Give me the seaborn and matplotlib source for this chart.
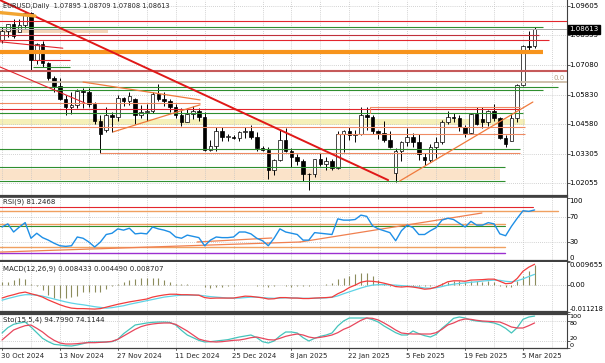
import numpy as np
import pandas as pd
import matplotlib
matplotlib.use("Agg")
import matplotlib.pyplot as plt
import matplotlib.transforms as mtransforms
import seaborn as sns

sns.set_style("white")
plt.rcParams["font.family"] = ["DejaVu Sans"]
plt.rcParams["font.size"] = 5.0

# ---------------------------------------------------------------- data
dates = pd.bdate_range("2024-10-30", "2025-03-07")

opens = [1.0817, 1.0855, 1.0884, 1.0848, 1.0880, 1.0930, 1.0730, 1.0800, 1.0719, 1.0655,
         1.0622, 1.0565, 1.0530, 1.0540, 1.0597, 1.0595, 1.0545, 1.0470, 1.0435, 1.0495,
         1.0487, 1.0568, 1.0555, 1.0565, 1.0497, 1.0510, 1.0513, 1.0585, 1.0567, 1.0555,
         1.0530, 1.0495, 1.0467, 1.0500, 1.0512, 1.0490, 1.0350, 1.0365, 1.0430, 1.0405,
         1.0405, 1.0400, 1.0423, 1.0430, 1.0405, 1.0355, 1.0350, 1.0265, 1.0307, 1.0390,
         1.0345, 1.0320, 1.0300, 1.0245, 1.0244, 1.0308, 1.0290, 1.0300, 1.0272, 1.0415,
         1.0430, 1.0410, 1.0415, 1.0495, 1.0490, 1.0430, 1.0420, 1.0390, 1.0250, 1.0345,
         1.0380, 1.0405, 1.0380, 1.0320, 1.0305, 1.0360, 1.0380, 1.0465, 1.0490, 1.0485,
         1.0445, 1.0420, 1.0500, 1.0480, 1.0465, 1.0515, 1.0485, 1.0400, 1.0385, 1.0485,
         1.0625, 1.0790, 1.07895]
highs = [1.0870, 1.0885, 1.0905, 1.0905, 1.0937, 1.0937, 1.0805, 1.0810, 1.0721, 1.0663,
         1.0653, 1.0580, 1.0595, 1.0608, 1.0610, 1.0610, 1.0552, 1.0498, 1.0530, 1.0510,
         1.0580, 1.0575, 1.0595, 1.0570, 1.0540, 1.0545, 1.0595, 1.0630, 1.0595, 1.0565,
         1.0545, 1.0525, 1.0525, 1.0535, 1.0525, 1.0510, 1.0390, 1.0445, 1.0445, 1.0415,
         1.0410, 1.0430, 1.0445, 1.0455, 1.0425, 1.0365, 1.0360, 1.0310, 1.0435, 1.0440,
         1.0355, 1.0330, 1.0310, 1.0250, 1.0310, 1.0335, 1.0320, 1.0310, 1.0430, 1.0435,
         1.0445, 1.0435, 1.0530, 1.0530, 1.0495, 1.0435, 1.0470, 1.0430, 1.0355, 1.0385,
         1.0440, 1.0420, 1.0415, 1.0335, 1.0375, 1.0405, 1.0475, 1.0515, 1.0505, 1.0495,
         1.0455, 1.0505, 1.0530, 1.0530, 1.0520, 1.0545, 1.0490, 1.0410, 1.0500, 1.0630,
         1.0795, 1.0855, 1.08709]
lows = [1.0805, 1.0828, 1.0824, 1.0848, 1.0868, 1.0683, 1.0715, 1.0700, 1.0645, 1.0595,
        1.0560, 1.0495, 1.0500, 1.0525, 1.0525, 1.0530, 1.0460, 1.0335, 1.0425, 1.0425,
        1.0470, 1.0535, 1.0540, 1.0460, 1.0485, 1.0470, 1.0505, 1.0555, 1.0535, 1.0510,
        1.0485, 1.0450, 1.0465, 1.0480, 1.0470, 1.0345, 1.0345, 1.0345, 1.0385, 1.0385,
        1.0395, 1.0385, 1.0400, 1.0395, 1.0345, 1.0345, 1.0226, 1.0240, 1.0300, 1.0340,
        1.0275, 1.0285, 1.0215, 1.0177, 1.0235, 1.0280, 1.0265, 1.0265, 1.0268, 1.0340,
        1.0390, 1.0380, 1.0410, 1.0435, 1.0415, 1.0395, 1.0380, 1.0355, 1.0212, 1.0300,
        1.0365, 1.0360, 1.0305, 1.0285, 1.0295, 1.0315, 1.0375, 1.0460, 1.0465, 1.0430,
        1.0405, 1.0415, 1.0455, 1.0440, 1.0450, 1.0470, 1.0395, 1.0360, 1.0385, 1.0465,
        1.0620, 1.0760, 1.07808]
closes = [1.0855, 1.0884, 1.0833, 1.0880, 1.0930, 1.0730, 1.0800, 1.0719, 1.0655, 1.0622,
          1.0565, 1.0530, 1.0540, 1.0597, 1.0595, 1.0545, 1.0470, 1.0418, 1.0495, 1.0487,
          1.0568, 1.0555, 1.0577, 1.0497, 1.0510, 1.0513, 1.0585, 1.0567, 1.0555, 1.0530,
          1.0495, 1.0467, 1.0500, 1.0512, 1.0490, 1.0350, 1.0365, 1.0430, 1.0405, 1.0405,
          1.0400, 1.0423, 1.0430, 1.0405, 1.0355, 1.0350, 1.0265, 1.0307, 1.0390, 1.0345,
          1.0320, 1.0300, 1.0245, 1.0244, 1.0308, 1.0290, 1.0300, 1.0272, 1.0415, 1.0430,
          1.0410, 1.0415, 1.0495, 1.0490, 1.0430, 1.0420, 1.0390, 1.0362, 1.0345, 1.0380,
          1.0405, 1.0380, 1.0330, 1.0305, 1.0360, 1.0380, 1.0465, 1.0490, 1.0485, 1.0445,
          1.0420, 1.0500, 1.0460, 1.0465, 1.0515, 1.0485, 1.0400, 1.0375, 1.0485, 1.0625,
          1.0790, 1.0785, 1.08613]

rsi = [54, 59, 46, 54, 61, 36, 44, 37, 33, 28,
       24, 23, 24, 38, 36, 30, 22, 30, 42, 44,
       51, 49, 52, 43, 44, 43, 54, 51, 49, 46,
       38, 36, 41, 39, 37, 24, 33, 38, 37, 37,
       38, 46, 46, 43, 36, 32, 24, 36, 51, 46,
       44, 42, 33, 33, 45, 44, 43, 42, 67, 65,
       65, 66, 73, 71, 56, 51, 48, 45, 32, 48,
       57, 53, 42, 42, 48, 53, 65, 68, 66, 60,
       54, 63, 57, 57, 61, 59, 43, 40, 55, 68,
       80, 79, 81.2468]

macd_main = [-0.0054, -0.0046, -0.0040, -0.0033, -0.0029, -0.0036, -0.0042, -0.0050, -0.0062, -0.0072,
             -0.0082, -0.0090, -0.0096, -0.0098, -0.0098, -0.0099, -0.0100, -0.0098, -0.0092, -0.0086,
             -0.0080, -0.0075, -0.0070, -0.0066, -0.0062, -0.0058, -0.0050, -0.0045, -0.0041, -0.0038,
             -0.0038, -0.0040, -0.0040, -0.0041, -0.0042, -0.0052, -0.0055, -0.0054, -0.0054, -0.0054,
             -0.0054, -0.0050, -0.0046, -0.0047, -0.0050, -0.0053, -0.0058, -0.0057, -0.0052, -0.0052,
             -0.0054, -0.0054, -0.0056, -0.0056, -0.0054, -0.0053, -0.0052, -0.0050, -0.0036, -0.0025,
             -0.0010, 0.0000, 0.0012, 0.0017, 0.0016, 0.0013, 0.0008, 0.0002, -0.0006, -0.0008,
             -0.0006, -0.0008, -0.0012, -0.0017, -0.0015, -0.0008, 0.0002, 0.0014, 0.0018, 0.0018,
             0.0016, 0.0021, 0.0022, 0.0023, 0.0025, 0.0025, 0.0016, 0.0006, 0.0008, 0.0028,
             0.0058, 0.0075, 0.008707]
macd_signal = [-0.0063, -0.0056, -0.0050, -0.0044, -0.0040, -0.0040, -0.0042, -0.0046, -0.0052, -0.0058,
               -0.0064, -0.0070, -0.0075, -0.0079, -0.0082, -0.0086, -0.0090, -0.0093, -0.0096, -0.0094,
               -0.0090, -0.0086, -0.0080, -0.0075, -0.0070, -0.0065, -0.0060, -0.0055, -0.0050, -0.0047,
               -0.0044, -0.0042, -0.0042, -0.0042, -0.0042, -0.0045, -0.0048, -0.0050, -0.0052, -0.0054,
               -0.0054, -0.0054, -0.0052, -0.0050, -0.0050, -0.0052, -0.0054, -0.0055, -0.0054, -0.0053,
               -0.0053, -0.0054, -0.0055, -0.0055, -0.0055, -0.0054, -0.0053, -0.0051, -0.0045, -0.0036,
               -0.0028, -0.0020, -0.0012, -0.0005, 0.0000, 0.0002, 0.0002, 0.0001, 0.0000, -0.0002,
               -0.0004, -0.0006, -0.0008, -0.0012, -0.0013, -0.0011, -0.0006, 0.0000, 0.0004, 0.0007,
               0.0009, 0.0012, 0.0014, 0.0017, 0.0019, 0.0021, 0.0020, 0.0016, 0.0014, 0.0018,
               0.0026, 0.0036, 0.004490]
macd_hist = [0.0013, 0.0015, 0.0021, 0.0029, 0.0025, 0.0003, -0.0004, -0.0020, -0.0040, -0.0054,
             -0.0054, -0.0054, -0.0050, -0.0046, -0.0030, -0.0030, -0.0028, -0.0030, -0.0018, -0.0004,
             0.0006, 0.0012, 0.0020, 0.0024, 0.0028, 0.0030, 0.0030, 0.0028, 0.0020, 0.0012,
             0.0006, 0.0004, 0.0003, 0.0002, 0.0000, -0.0006, -0.0010, -0.0008, -0.0006, -0.0004,
             -0.0003, 0.0000, 0.0002, 0.0001, -0.0002, -0.0003, -0.0006, -0.0004, 0.0000, -0.0005,
             -0.0006, -0.0004, -0.0004, -0.0003, 0.0000, 0.0002, 0.0003, 0.0010, 0.0024, 0.0030,
             0.0040, 0.0046, 0.0050, 0.0050, 0.0040, 0.0020, 0.0006, -0.0002, -0.0004, -0.0004,
             -0.0002, -0.0002, -0.0004, -0.0003, -0.0002, 0.0000, 0.0008, 0.0014, 0.0016, 0.0016,
             0.0014, 0.0016, 0.0016, 0.0015, 0.0016, 0.0012, -0.0004, -0.0008, -0.0006, 0.0016,
             0.0040, 0.0060, 0.008433]

sto_k = [44, 60, 70, 74, 77, 62, 45, 28, 18, 10,
         8, 6, 5, 8, 12, 17, 17, 17, 17, 18,
         25, 42, 55, 68, 71, 74, 76, 77, 77, 76,
         68, 52, 38, 30, 22, 17, 18, 20, 22, 24,
         28, 32, 35, 38, 30, 18, 14, 20, 35, 47,
         47, 44, 30, 20, 28, 34, 38, 44, 65, 80,
         89, 89, 89, 89, 84, 77, 65, 55, 45, 38,
         38, 50, 42, 36, 32, 40, 58, 72, 88, 92,
         89, 83, 80, 78, 77, 74, 68, 58, 44, 60,
         85, 92, 94.7990]
sto_d = [23, 38, 53, 60, 66, 68, 58, 47, 33, 22,
         14, 11, 11, 12, 14, 15, 15, 16, 17, 19,
         25, 35, 45, 55, 63, 68, 71, 73, 74, 74,
         70, 60, 50, 38, 26, 21, 18, 17, 18, 20,
         22, 23, 26, 30, 32, 28, 24, 23, 28, 34,
         38, 41, 38, 32, 29, 31, 34, 38, 45, 55,
         62, 72, 82, 89, 88, 83, 74, 64, 53, 44,
         42, 41, 41, 41, 41, 45, 55, 68, 74, 82,
         86, 85, 82, 80, 79, 78, 77, 70, 62, 59,
         59, 66, 74.1144]

price_ticks = [1.09605, 1.08355, 1.07080, 1.05830, 1.04580, 1.03305, 1.02055]
bid_price = 1.08613

# chart objects, anchored in (bar number, price)
level_price = [1.08988, 1.08699, 1.08371, 1.08159, 1.07636, 1.07308, 1.07010, 1.06840,
               1.06372, 1.06147, 1.06032, 1.05479, 1.05309, 1.05224, 1.05054, 1.04458,
               1.04160, 1.03522, 1.03350, 1.02754, 1.02161]
level_start = [-1, -1, -1, -1, -1, 5.35, 5.35, -1,
               -1, -1, -1, -1, 63.6, -1, -1, -1,
               57.9, -1, 16.9, -1, -1]
level_end = [98, 93.4, 92.7, 94.5, 93.4, 11.7, 11.7, 98,
             98, 96.0, 93.4, 34.2, 89.5, 89.5, 90.0, 90.3,
             90.3, 89.5, 89.5, 86.9, 86.9]
level_kind = ["red", "green", "darkred", "red", "orange", "red", "green", "indian",
              "fibo", "green", "green", "salmon", "salmon", "red", "green", "salmon",
              "salmon", "green", "salmon", "green", "green"]

band_low = [1.08457, 1.04543, 1.02203]
band_high = [1.08627, 1.04798, 1.02671]
band_start = [-1, -1, -1]
band_end = [18.3, 90.3, 86.0]
band_kind = ["peach", "khaki", "cream"]

trend_x0 = [-1, -1, -1, -1, 68.7, 14.0, 19.2, 63.6]
trend_p0 = [1.0993, 1.0708, 1.0810, 1.0934, 1.0216, 1.0637, 1.0425, 1.0531]
trend_x1 = [66.7, 14.3, 10.5, 5.7, 91.7, 34.2, 34.2, 63.6]
trend_p1 = [1.0220, 1.0548, 1.0781, 1.0918, 1.0552, 1.0561, 1.0540, 1.0505]
trend_kind = ["diag", "red", "red", "gold", "trend", "trend", "trend", "salmon"]

rsi_level = [86, 79.6, 58.8, 55.6, 22, 12.4]
rsi_level_end = [91.7, 96.0, 86.9, 86.9, 86.9, 86.9]
rsi_level_kind = ["red", "sand", "sand", "green", "sand", "purple"]
rsi_trend_x0 = [-1, 51.5, 33.7]
rsi_trend_v0 = [13.7, 30, 30]
rsi_trend_x1 = [51.5, 82.9, 46.6]
rsi_trend_v1 = [30, 76.4, 36.4]

# ---------------------------------------------------------------- styles
LINE_STYLE = {
    "red": ("#e3262d", 0.8),
    "darkred": ("#c0303a", 0.8),
    "green": ("#2f8f2f", 0.8),
    "orange": ("#f7941d", 3.0),
    "indian": ("#c65a5a", 1.5),
    "fibo": ("#cbbba6", 1.3),
    "salmon": ("#ef8a62", 0.8),
    "diag": ("#e01818", 1.4),
    "gold": ("#f2a531", 2.4),
    "trend": ("#f07a3c", 0.9),
    "sand": ("#f0a060", 1.0),
    "purple": ("#9b30d0", 1.0),
}
BAND_COLOR = {"peach": "#f4d6b8", "khaki": "#f5f0b8", "cream": "#fbe3c9"}
GRID = dict(color="#c4c4c4", lw=0.6, ls=(0, (1, 1.5)), zorder=0.6)
FRAME = "#404040"

W, H = 605, 363
XLIM = (-0.35, 97.6)


def panel(top, bottom):
    return fig.add_axes([0, 1 - bottom / H, 567 / W, (bottom - top) / H])


fig = plt.figure(figsize=(W / 100, H / 100), dpi=100)
ax_p = panel(0, 196)
ax_r = panel(197, 261)
ax_m = panel(262, 312)
ax_s = panel(314, 348)

idx = np.arange(len(dates))

for ax in (ax_p, ax_r, ax_m, ax_s):
    ax.set_xlim(*XLIM)
    ax.set_xticks([])
    for side in ("left", "top"):
        ax.spines[side].set_visible(False)
    ax.spines["right"].set_color(FRAME)
    ax.spines["right"].set_linewidth(0.8)
    ax.spines["bottom"].set_color(FRAME)
    ax.spines["bottom"].set_linewidth(1.6)
    ax.yaxis.tick_right()
    ax.tick_params(axis="y", length=2, width=0.6, color=FRAME, labelright=False)
    for i in range(0, 100, 5):
        ax.axvline(i, **GRID)
ax_r.spines["top"].set_visible(True)
ax_r.spines["top"].set_color(FRAME)
ax_r.spines["top"].set_linewidth(1.2)
ax_s.spines["top"].set_visible(True)
ax_s.spines["top"].set_color(FRAME)
ax_s.spines["top"].set_linewidth(1.6)
ax_s.spines["bottom"].set_linewidth(0.9)


def right_label(ax, value, text, va="center", size=5.0):
    ax.text(1.004, value, text, transform=ax.get_yaxis_transform(),
            ha="left", va=va, fontsize=size, color="black", clip_on=False)


# ---------------------------------------------------------------- price panel
ax_p.set_ylim(1.01523, 1.09860)
ax_p.set_yticks(price_ticks)
for p in price_ticks:
    ax_p.axhline(p, **GRID)
    right_label(ax_p, p, f"{p:.5f}")

for lo, hi, x0, x1, k in zip(band_low, band_high, band_start, band_end, band_kind):
    ax_p.fill_between([x0, x1], lo, hi, color=BAND_COLOR[k], lw=0, zorder=0.5)

o, h, l, c = map(np.array, (opens, highs, lows, closes))
ax_p.vlines(idx, l, h, color="black", lw=0.7, zorder=2)
body = np.maximum(np.abs(c - o), 0.00008)
ax_p.bar(idx, body, bottom=np.minimum(o, c), width=0.62,
         color=np.where(c >= o, "white", "black"), edgecolor="black",
         linewidth=0.5, zorder=2.5)

for p, x0, x1, k in zip(level_price, level_start, level_end, level_kind):
    col, lw = LINE_STYLE[k]
    ax_p.plot([x0, x1], [p, p], color=col, lw=lw, zorder=3, solid_capstyle="butt")

for x0, p0, x1, p1, k in zip(trend_x0, trend_p0, trend_x1, trend_p1, trend_kind):
    col, lw = LINE_STYLE[k]
    ax_p.plot([x0, x1], [p0, p1], color=col, lw=lw, zorder=3.2)

ax_p.axhline(bid_price, color="#a8a8a8", lw=0.7, zorder=3.1)
ax_p.text(97.2, 1.06372 + 0.0003, "0.0", ha="right", va="bottom",
          color="#b49f85", fontsize=5.0, zorder=4)
ax_p.text(1.004, bid_price, "1.08613", transform=ax_p.get_yaxis_transform(),
          ha="left", va="center", color="white", fontsize=5.0, zorder=6, clip_on=False,
          bbox=dict(boxstyle="square,pad=0.2", fc="black", ec="black"))
ax_p.text(0.006, 0.985, "EURUSD,Daily  1.07895 1.08709 1.07808 1.08613",
          transform=ax_p.transAxes, ha="left", va="top", fontsize=4.8, zorder=7)

# ---------------------------------------------------------------- RSI
ax_r.set_ylim(-0.4, 102)
ax_r.set_yticks([0, 30, 70, 100])
for v in (30, 70):
    ax_r.axhline(v, **GRID)
for v, x1, k in zip(rsi_level, rsi_level_end, rsi_level_kind):
    col, lw = LINE_STYLE[k]
    ax_r.plot([-1, x1], [v, v], color=col, lw=lw, zorder=2)
for x0, v0, x1, v1 in zip(rsi_trend_x0, rsi_trend_v0, rsi_trend_x1, rsi_trend_v1):
    ax_r.plot([x0, x1], [v0, v1], color="#f08050", lw=0.9, zorder=2.2)
sns.lineplot(x=idx, y=rsi, ax=ax_r, color="#1e8fe6", lw=1.0, zorder=3)
ax_r.set_ylabel("")
right_label(ax_r, 100, "100", va="top")
right_label(ax_r, 70, "70")
right_label(ax_r, 30, "30")
right_label(ax_r, 0, "0", va="bottom")
ax_r.text(0.006, 0.97, "RSI(9) 81.2468", transform=ax_r.transAxes,
          ha="left", va="top", fontsize=5.0, zorder=7)

# ---------------------------------------------------------------- MACD
ax_m.set_ylim(-0.011218, 0.009655)
ax_m.set_yticks([-0.011218, 0, 0.009655])
ax_m.axhline(0, **GRID)
ax_m.vlines(idx, 0, macd_hist, color="#8c8c5c", lw=0.8, zorder=2)
sns.lineplot(x=idx, y=macd_signal, ax=ax_m, color="#5fd3e6", lw=0.9, zorder=3)
sns.lineplot(x=idx, y=macd_main, ax=ax_m, color="#f23c3c", lw=0.9, zorder=3.1)
ax_m.set_ylabel("")
right_label(ax_m, 0.009655, "0.009655", va="top")
right_label(ax_m, 0, "0.00")
right_label(ax_m, -0.011218, "-0.011218", va="bottom", size=4.8)
ax_m.text(0.006, 0.93, "MACD(12,26,9) 0.008433 0.004490 0.008707",
          transform=ax_m.transAxes, ha="left", va="top", fontsize=5.0, zorder=7)

# ---------------------------------------------------------------- Stochastic
ax_s.set_ylim(-1, 101)
ax_s.set_yticks([0, 20, 80, 100])
for v in (20, 80):
    ax_s.axhline(v, **GRID)
sns.lineplot(x=idx, y=sto_k, ax=ax_s, color="#45c4bc", lw=0.9, zorder=3)
sns.lineplot(x=idx, y=sto_d, ax=ax_s, color="#e8465c", lw=0.9, zorder=3.1)
ax_s.set_ylabel("")
right_label(ax_s, 100, "100", va="top", size=4.6)
right_label(ax_s, 80, "80", va="top", size=4.6)
right_label(ax_s, 20, "20", va="bottom", size=4.6)
right_label(ax_s, 0, "0", va="bottom", size=4.6)
ax_s.text(0.006, 0.93, "Sto(15,5,4) 94.7990 74.1144", transform=ax_s.transAxes,
          ha="left", va="top", fontsize=5.0, zorder=7)

# date axis
date_tf = mtransforms.blended_transform_factory(ax_s.transData, ax_s.transAxes)
for i in range(0, len(dates), 10):
    d = dates[i]
    ax_s.text(i - 0.2, -0.24, f"{d.day} {d.strftime('%b %Y')}", transform=date_tf,
              ha="left", va="center", fontsize=5.0, clip_on=False)
    ax_s.plot([i, i], [0, -0.06], transform=date_tf, color=FRAME, lw=0.6, clip_on=False)

fig.savefig("out.png", dpi=100)
